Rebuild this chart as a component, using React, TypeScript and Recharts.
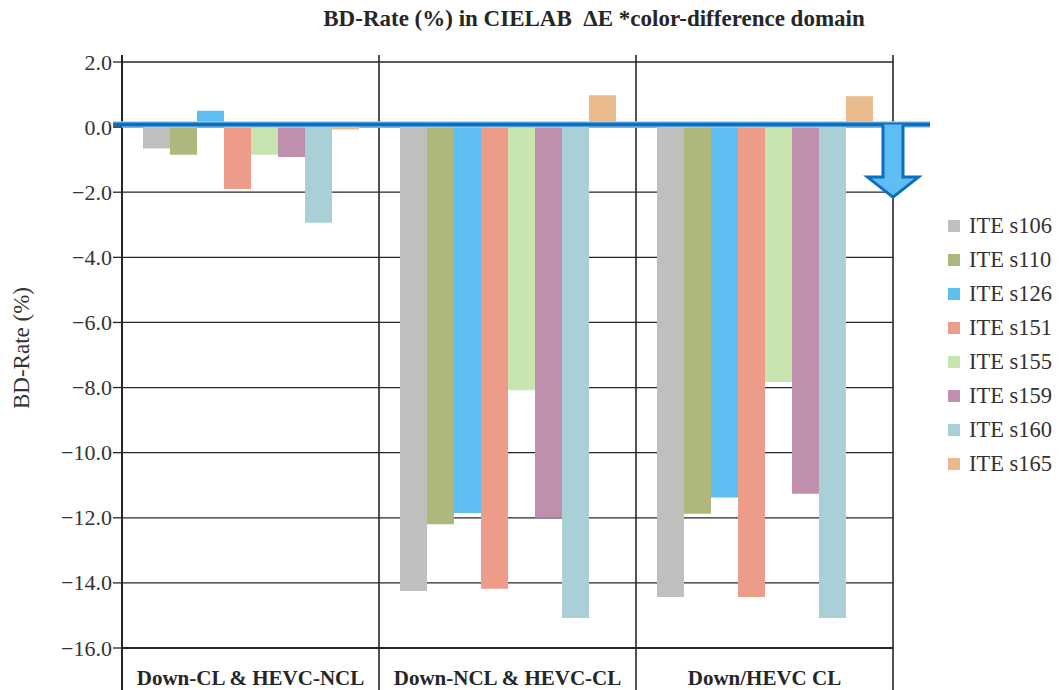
import React from 'react';
import { BarChart, Bar, XAxis, YAxis, CartesianGrid, ReferenceLine, Legend } from 'recharts';

const categories = ['Down-CL & HEVC-NCL', 'Down-NCL & HEVC-CL', 'Down/HEVC CL'];
const seriesKeys = ['s106', 's110', 's126', 's151', 's155', 's159', 's160', 's165'];
const seriesNames = ['ITE s106', 'ITE s110', 'ITE s126', 'ITE s151', 'ITE s155', 'ITE s159', 'ITE s160', 'ITE s165'];
const seriesColors = ['#C0BFBE', '#AFB77C', '#5EBEF2', '#EE9C8A', '#C9E5AF', '#BF8FAD', '#A9D0D7', '#EABB8C'];

const s106 = [-0.66, -14.25, -14.43];
const s110 = [-0.85, -12.2, -11.88];
const s126 = [0.5, -11.85, -11.38];
const s151 = [-1.9, -14.18, -14.43];
const s155 = [-0.85, -8.08, -7.83];
const s159 = [-0.92, -12.0, -11.26];
const s160 = [-2.94, -15.08, -15.08];
const s165 = [-0.07, 0.98, 0.95];

const yTicks = [2, 0, -2, -4, -6, -8, -10, -12, -14, -16];

const seriesValues = [s106, s110, s126, s151, s155, s159, s160, s165];
const data = categories.map((name, i) => {
  const row: Record<string, any> = { name };
  seriesKeys.forEach((k, j) => {
    row[k] = seriesValues[j][i];
  });
  return row;
});

const CHART_W = 1060;
const CHART_H = 690;
const PLOT_TOP = 62;
const FONT = '"Liberation Serif", "Times New Roman", serif';
const INK = '#262626';

const fmt = (v: number) => (v < 0 ? '\u2212' + Math.abs(v).toFixed(1) : v.toFixed(1));

const YTick = (props: any) => {
  const { x, y, payload } = props;
  return (
    <text x={x} y={y} dy={7.5} textAnchor="end" style={{ fontFamily: FONT, fontSize: 22, fill: '#333' }}>
      {fmt(payload.value)}
    </text>
  );
};

const XTick = (props: any) => {
  const { x, y, payload } = props;
  return (
    <text x={x} y={y} dy={15} textAnchor="middle" style={{ fontFamily: FONT, fontSize: 21, fontWeight: 'bold', fill: INK }}>
      {payload.value}
    </text>
  );
};

const YLabel = (props: any) => {
  const vb = props.viewBox || { x: 0, y: PLOT_TOP, width: 122, height: 586 };
  const cx = vb.x + 29;
  const cy = vb.y + vb.height / 2 - 7;
  return (
    <text
      x={cx}
      y={cy}
      transform={`rotate(-90, ${cx}, ${cy})`}
      textAnchor="middle"
      style={{ fontFamily: FONT, fontSize: 23, fill: '#333' }}
    >
      BD-Rate (%)
    </text>
  );
};

const ZeroLineShape = (props: any) => {
  const { x1, x2, y1 } = props;
  const n = categories.length;
  const w = (x2 - x1) / n;
  const seps = Array.from({ length: n + 1 }, (_, k) => x1 + k * w);
  const yl = y1 - 2.5;
  return (
    <g>
      {seps.map((x, k) => (
        <line key={k} x1={x} x2={x} y1={PLOT_TOP - 7} y2={CHART_H} stroke={INK} strokeWidth={k === 0 ? 2 : 1.6} />
      ))}
      <line x1={x1 - 9} x2={x2 + 37} y1={yl} y2={yl} stroke="#9ACFEF" strokeWidth={6.5} />
      <line x1={x1 - 9} x2={x2 + 37} y1={yl} y2={yl} stroke="#0A6FC0" strokeWidth={4} />
      <path
        d={`M${x2 - 10},${yl} L${x2 - 10},${y1 + 50} L${x2 - 25.5},${y1 + 50} L${x2},${y1 + 70} L${x2 + 25.5},${y1 + 50} L${x2 + 10},${y1 + 50} L${x2 + 10},${yl}`}
        fill="#5EBEF2"
        stroke="#0A6FC0"
        strokeWidth={3}
        strokeLinejoin="miter"
      />
    </g>
  );
};

const LegendContent = (props: any) => {
  const { payload } = props;
  return (
    <div style={{ fontFamily: FONT, fontSize: 22.5, color: '#333' }}>
      {(payload || []).map((e: any, i: number) => (
        <div key={i} style={{ display: 'flex', alignItems: 'center', height: 34 }}>
          <span style={{ display: 'inline-block', width: 12, height: 12, background: e.color, marginRight: 9 }} />
          <span style={{ lineHeight: '22px' }}>{e.value}</span>
        </div>
      ))}
    </div>
  );
};

export default function App() {
  return (
    <div style={{ position: 'absolute', left: 0, top: 0, width: CHART_W, height: CHART_H, background: '#fff' }}>
      <div
        style={{
          position: 'absolute',
          left: 0,
          width: 1188,
          top: 7,
          textAlign: 'center',
          fontFamily: FONT,
          fontWeight: 'bold',
          fontSize: 23,
          lineHeight: '23px',
          color: INK,
          whiteSpace: 'pre',
          zIndex: 2,
        }}
      >
        {'BD-Rate (%) in CIELAB  \u0394E *color-difference domain'}
      </div>
      <BarChart
        width={CHART_W}
        height={CHART_H}
        data={data}
        margin={{ top: PLOT_TOP, right: 167, bottom: 0, left: 0 }}
        barCategoryGap={21}
        barGap={0}
      >
        <CartesianGrid horizontal vertical={false} stroke={INK} strokeWidth={1.3} strokeOpacity={1} />
        <XAxis
          dataKey="name"
          height={42}
          axisLine={{ stroke: INK, strokeWidth: 2 }}
          tickLine={false}
          tickMargin={16}
          interval={0}
          tick={XTick}
        />
        <YAxis
          width={122}
          domain={[-16, 2]}
          ticks={yTicks}
          interval={0}
          allowDataOverflow
          axisLine={false}
          tickLine={{ stroke: INK, strokeWidth: 1.3 }}
          tickSize={9}
          tickMargin={1}
          tick={YTick}
          label={{ content: YLabel }}
        />
        {seriesKeys.map((k, j) => (
          <Bar key={k} dataKey={k} name={seriesNames[j]} fill={seriesColors[j]} isAnimationActive={false} />
        ))}
        <ReferenceLine y={0} stroke="#0A6FC0" shape={ZeroLineShape} />
        <Legend
          layout="vertical"
          align="center"
          verticalAlign="middle"
          content={LegendContent}
          wrapperStyle={{ left: 948, top: 209, width: 112, right: 'auto', bottom: 'auto' }}
        />
      </BarChart>
    </div>
  );
}
